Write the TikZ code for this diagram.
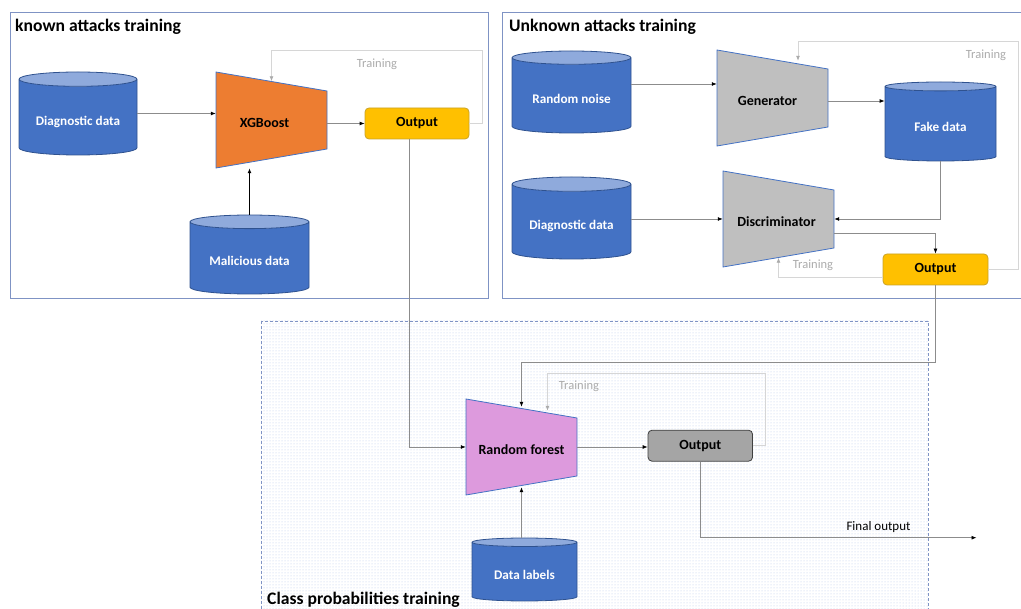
\documentclass[tikz,border=0pt]{standalone}
\usepackage{fontspec}
\setmainfont{Carlito}
\usetikzlibrary{shapes.geometric,arrows.meta,patterns,positioning}

\definecolor{framecol}{HTML}{7F93C4}
\definecolor{dotcol}{HTML}{B4C6E8}
\definecolor{cylbody}{HTML}{4472C4}
\definecolor{cyltop}{HTML}{8FAADC}
\definecolor{cylline}{HTML}{2F528F}
\definecolor{xgbfill}{HTML}{ED7D31}
\definecolor{ganfill}{HTML}{BFBFBF}
\definecolor{rffill}{HTML}{DD9ADD}
\definecolor{outyellow}{HTML}{FFC000}
\definecolor{outyline}{HTML}{C9A227}
\definecolor{outgray}{HTML}{A5A5A5}
\definecolor{conncol}{HTML}{8C8C8C}
\definecolor{trainline}{HTML}{D6D6D6}
\definecolor{traintext}{HTML}{ABABAB}

\tikzset{
	stage/.style={draw=framecol,line width=1pt},
	stagedash/.style={draw=framecol,line width=.8pt,dash pattern=on 3pt off 2pt,pattern=dots,pattern color=dotcol},
	stagetitle/.style={anchor=base west,inner sep=0,font=\fontsize{17.6}{20}\selectfont\bfseries},
	database/.style={cylinder,shape border rotate=90,aspect=.17,draw=cylline,line width=.8pt,
		cylinder uses custom fill,cylinder body fill=cylbody,cylinder end fill=cyltop,anchor=shape center,
		inner sep=0,text=white,text height=15.5pt,text depth=0pt,font=\fontsize{13.2}{15}\selectfont\bfseries},
	model/.style={draw=cylbody,line width=.8pt},
	modelarea/.style={minimum width=111,minimum height=96,inner sep=0,text height=16pt,text depth=0pt,
		font=\fontsize{14}{16}\selectfont\bfseries},
	result/.style={rounded corners=4pt,line width=.8pt,minimum height=31,inner sep=0,
		font=\fontsize{14}{16}\selectfont\bfseries},
	conn/.style={draw=conncol,line width=.8pt,-{Latex[length=5pt,width=4pt,color=black]}},
	train/.style={draw=trainline,line width=.8pt,-{Latex[length=5pt,width=4pt,color=traintext]}},
	trainlabel/.style={inner sep=0,text=traintext,font=\fontsize{12.5}{14}\selectfont}
}

\begin{document}
\begin{tikzpicture}[x=1pt,y=-1pt]
	\path[use as bounding box] (0,0) rectangle (1021,609);
	\clip (0,0) rectangle (1021,609);

	\begin{scope}
		\draw[stagedash] (261,321) rectangle (928,640);
		\draw[stage] (10,13) rectangle (488,299);
		\draw[stage] (502,13) rectangle (1030,299);
		\node[stagetitle] (knowntitle) at (15,31.5) {known attacks training};
		\node[stagetitle] (unknowntitle) at (509,31.5) {Unknown attacks training};
		\node[stagetitle] (classtitle) at (267,605) {Class probabilities training};
	\end{scope}

	\begin{scope}
		\draw[model,fill=xgbfill] (216,72) -- (327,91) -- (327,149) -- (216,168) -- cycle;
		\draw[model,fill=ganfill] (717,50) -- (828,69) -- (828,127) -- (717,146) -- cycle;
		\draw[model,fill=ganfill] (723,171) -- (834,190) -- (834,248) -- (723,267) -- cycle;
		\draw[model,fill=rffill] (466,399) -- (577,418) -- (577,476) -- (466,495) -- cycle;
		\node[modelarea] (xgb) at (271.5,120) {\hspace*{-14pt}XGBoost};
		\node[modelarea] (gen) at (772.5,98) {\hspace*{-10pt}Generator};
		\node[modelarea] (disc) at (778.5,219) {\hspace*{-4pt}Discriminator};
		\node[modelarea] (rf) at (521.5,447) {Random forest};
	\end{scope}

	\begin{scope}
		\node[database,minimum width=118,minimum height=83] (diagA) at (78,113.5) {Diagnostic data};
		\node[database,minimum width=119,minimum height=79] (mal) at (249.5,254.5) {Malicious data};
		\node[database,minimum width=119,minimum height=82] (noise) at (571.5,92) {Random noise};
		\node[database,minimum width=111,minimum height=79] (fake) at (940.5,121.5) {Fake data};
		\node[database,minimum width=119,minimum height=82] (diagB) at (571.5,218) {Diagnostic data};
		\node[database,minimum width=105,minimum height=63,aspect=.14] (labels) at (524.5,569.5) {Data labels};
	\end{scope}

	\begin{scope}
		\node[result,fill=outyellow,draw=outyline,minimum width=104] (outA) at (417,123.5) {Output};
		\node[result,fill=outyellow,draw=outyline,minimum width=105] (outB) at (935.5,269.5) {Output};
		\node[result,fill=outgray,draw=black!75,minimum width=104.5] (outC) at (700.3,445.7) {Output};
		\coordinate (final) at (976.5,537.7);
	\end{scope}

	\draw[conn] (diagA.east |- diagA.shape center) -- (diagA.shape center -| xgb.west);
	\draw[conn] (outA.west -| xgb.east) -- (outA.west);
	\draw[conn,draw=black,line width=1.2pt] (mal.north) -- (mal.north |- xgb.south);
	\draw[train] (outA.east) -- ++(13,0) |- ([yshift=21pt]xgb.north) -- ([yshift=-9.5pt]xgb.north);
	\node[trainlabel] (trainA) at (377,64) {Training};
	\draw[conn] ([xshift=-8pt]outA.south) |- (rf.west);

	\draw[conn] ([yshift=8pt]noise.east |- noise.shape center) -- ([yshift=8pt]noise.shape center -| gen.west);
	\draw[conn] ([yshift=-3pt]gen.east) -- ([yshift=-3pt]gen.east -| fake.west);
	\draw[conn] (diagB.east |- disc.west) -- (disc.west);
	\draw[conn] (fake.south) |- (disc.east);
	\draw[conn] ([yshift=-14pt]disc.east) -| (outB.north);
	\draw[train] (outB.east) -- ++(30,0) |- ([shift={(25.5pt,8pt)}]gen.north) -- ([shift={(25.5pt,-11pt)}]gen.north);
	\node[trainlabel] (trainB) at (986,55) {Training};
	\draw[train] ([yshift=-8pt]outB.west) -| ([yshift=9.5pt]disc.south);
	\node[trainlabel] (trainC) at (813,265) {Training};
	\draw[conn] (outB.south) -- ++(0,77.5) -| ([yshift=-8pt]rf.north);

	\draw[conn] (rf.east) -- (rf.east -| outC.west);
	\draw[train] (outC.east) -- ++(12.5,0) |- ([shift={(26pt,25pt)}]rf.north) -- ([shift={(26pt,-12pt)}]rf.north);
	\node[trainlabel] (trainD) at (579,386) {Training};
	\draw[conn] (rf.south |- labels.north) -- ([yshift=8pt]rf.south);
	\draw[conn] (outC.south) |- (final);
	\node[inner sep=0,font=\fontsize{13}{15}\selectfont] (finallabel) at (878.5,527) {Final output};
\end{tikzpicture}
\end{document}
